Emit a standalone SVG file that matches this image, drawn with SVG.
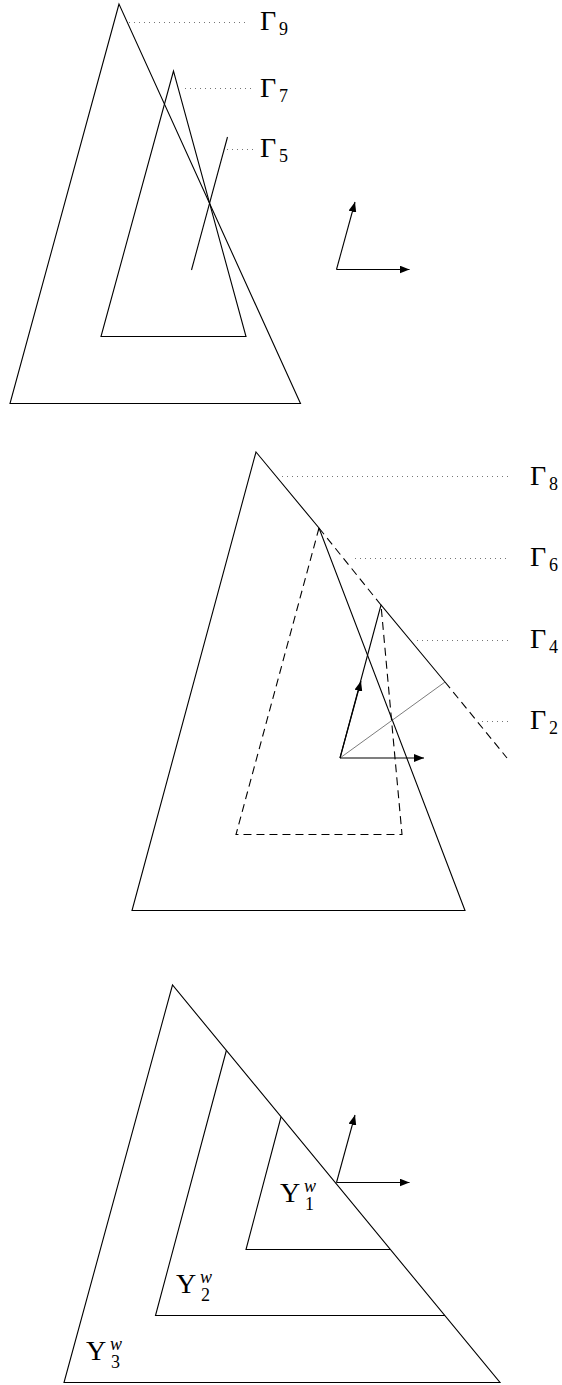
<svg xmlns="http://www.w3.org/2000/svg" width="562" height="1385" viewBox="0 0 562 1385">
<style>
.ln{fill:none;stroke:#000;stroke-width:1.1;stroke-linejoin:miter}
.th{fill:none;stroke:#444;stroke-width:0.7}
.da{fill:none;stroke:#000;stroke-width:1.1;stroke-dasharray:8 5}
.dot{fill:none;stroke:#666;stroke-width:0.9;stroke-dasharray:1 4}
.ar{fill:none;stroke:#000;stroke-width:1.1;marker-end:url(#ah)}
.lab{font-family:"Liberation Serif","DejaVu Serif",serif;font-size:28px;fill:#000}
.s{font-size:18px}
.w{font-size:18px;font-style:italic}
</style>
<defs>
<marker id="ah" viewBox="0 0 10 8" refX="10" refY="4" markerWidth="10" markerHeight="8" markerUnits="userSpaceOnUse" orient="auto">
<path d="M0,0 L10,4 L0,8 Z" fill="#000"/>
</marker>
</defs>
<rect width="562" height="1385" fill="#fff"/>

<!-- top section -->
<g id="gamma9"><path class="ln" d="M119,4 L10,403.5 L300.5,403.5 Z"/></g>
<g id="gamma7"><path class="ln" d="M173.5,71 L101,336.5 L246,336.5 Z"/></g>
<g id="gamma5"><path class="ln" d="M227.5,137 L191.5,270"/></g>
<g id="axes-top">
<path class="ar" d="M336.5,269.5 L355,202"/>
<path class="ar" d="M336.5,269.5 L409.5,269.5"/>
</g>
<g id="lab-g9"><text class="lab" x="260" y="30">Γ<tspan class="s" x="279" y="35">9</tspan></text></g>
<g id="lab-g7"><text class="lab" x="260" y="97">Γ<tspan class="s" x="279" y="102">7</tspan></text></g>
<g id="lab-g5"><text class="lab" x="260" y="157">Γ<tspan class="s" x="279" y="162">5</tspan></text></g>

<!-- middle section -->
<g id="gamma8"><path class="ln" d="M256,452 L319,528 L465,910.5 L132,910.5 Z"/></g>
<g id="gamma6"><path class="da" d="M319,528 L381,605 M319,528 L236,834.5 L402,834.5 L381,605"/></g>
<g id="gamma4"><path class="ln" d="M340,758 L381,605 L445,682"/><path class="th" d="M340,758 L445,682"/></g>
<g id="gamma2"><path class="da" d="M445,682 L507,758"/></g>
<g id="axes-mid">
<path class="ar" d="M340,758 L361,681"/>
<path class="ar" d="M340,758 L424,758"/>
</g>
<g id="lab-g8"><text class="lab" x="530" y="485">Γ<tspan class="s" x="549" y="490">8</tspan></text></g>
<g id="lab-g6"><text class="lab" x="530" y="566">Γ<tspan class="s" x="549" y="571">6</tspan></text></g>
<g id="lab-g4"><text class="lab" x="530" y="648">Γ<tspan class="s" x="549" y="653">4</tspan></text></g>
<g id="lab-g2"><text class="lab" x="530" y="729">Γ<tspan class="s" x="549" y="734">2</tspan></text></g>

<!-- bottom section -->
<g id="upsilon3"><path class="ln" d="M172.5,985 L64,1382.5 L500,1382.5 Z"/></g>
<g id="upsilon2"><path class="ln" d="M226.5,1050 L155.5,1315.5 L445,1315.5"/></g>
<g id="upsilon1"><path class="ln" d="M281,1117 L246,1249.5 L390,1249.5"/></g>
<g id="axes-bot">
<path class="ar" d="M336.5,1182.5 L355,1115"/>
<path class="ar" d="M336.5,1182.5 L409.5,1182.5"/>
</g>
<g id="lab-u1"><text class="lab" x="280" y="1202">Υ<tspan class="w" x="304" y="1192">w</tspan><tspan class="s" x="305" y="1210">1</tspan></text></g>
<g id="lab-u2"><text class="lab" x="176" y="1293">Υ<tspan class="w" x="200" y="1283">w</tspan><tspan class="s" x="201" y="1301">2</tspan></text></g>
<g id="lab-u3"><text class="lab" x="86" y="1360">Υ<tspan class="w" x="110" y="1350">w</tspan><tspan class="s" x="111" y="1368">3</tspan></text></g>

<g id="connectors">
<path class="dot" d="M129,22.5 H247"/>
<path class="dot" d="M185,88.5 H254"/>
<path class="dot" d="M227,149.5 H253"/>
<path class="dot" d="M282,476.5 H510"/>
<path class="dot" d="M355,558.5 H510"/>
<path class="dot" d="M417,640.5 H510"/>
<path class="dot" d="M482,721.5 H510"/>
</g>
</svg>
